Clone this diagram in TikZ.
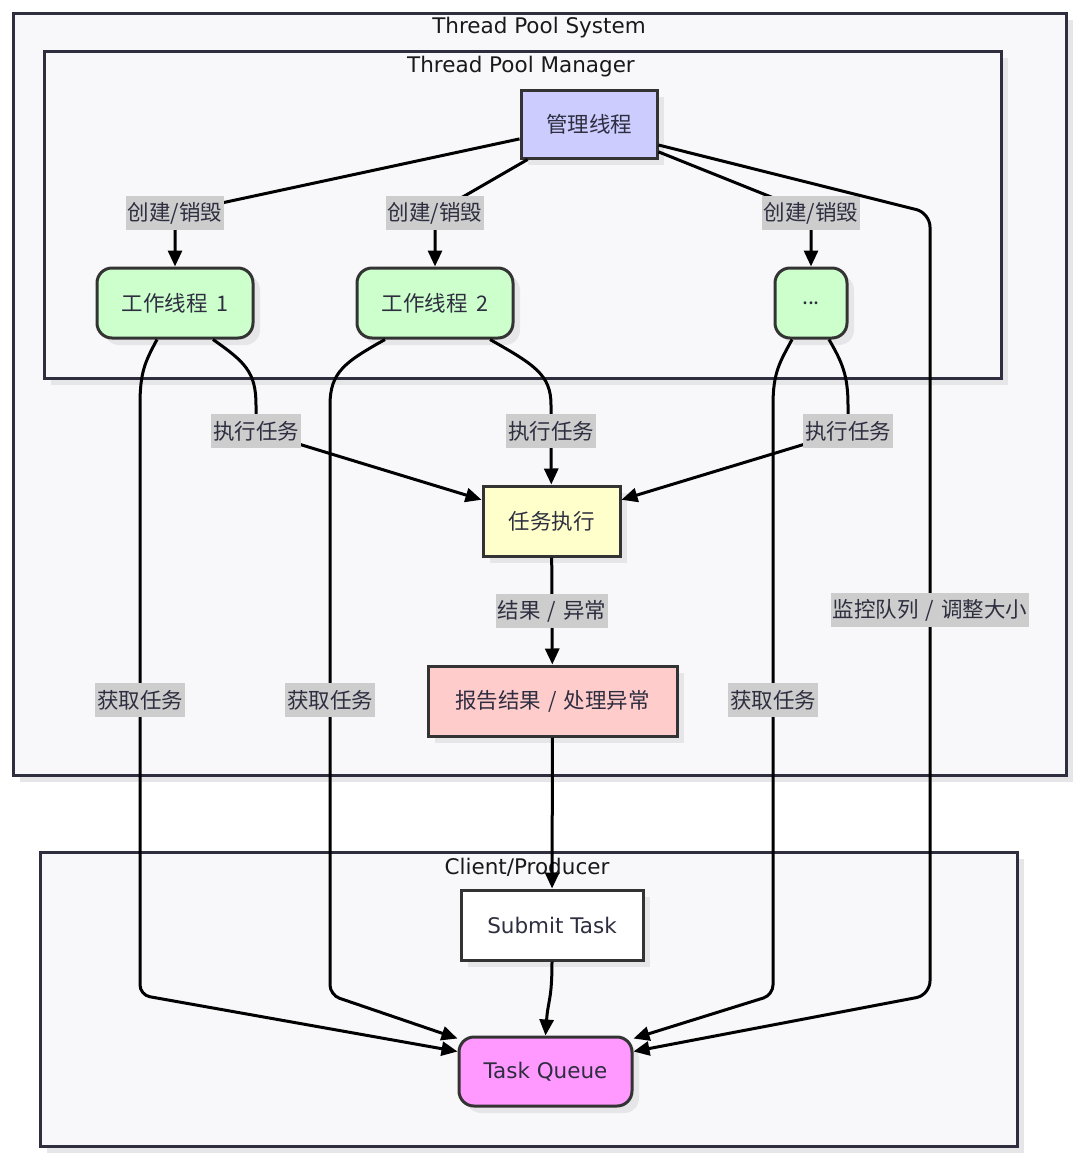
\documentclass[tikz,border=0pt]{standalone}
\usepackage{fontspec}
\setmainfont{DejaVu Sans}
\newfontfamily\cjk{Noto Sans CJK SC}
\usetikzlibrary{shadows,arrows.meta,calc}
\definecolor{clfill}{HTML}{F8F8FA}
\definecolor{clborder}{HTML}{2E2E3E}
\definecolor{nborder}{HTML}{333333}
\definecolor{txt}{HTML}{2E2E40}
\definecolor{lblbg}{HTML}{CDCDCD}
\definecolor{shadowc}{HTML}{E6E6E8}
\definecolor{mgrfill}{HTML}{CCCCFF}
\definecolor{wfill}{HTML}{CCFFCC}
\definecolor{exfill}{HTML}{FFFFCC}
\definecolor{repfill}{HTML}{FFCCCC}
\definecolor{tqfill}{HTML}{FF99FF}
\newcommand{\myslash}{\hspace{7pt}/\hspace{7pt}}
\tikzset{
  shad/.style={drop shadow={shadow xshift=7pt,shadow yshift=-7pt,fill=shadowc,opacity=1}},
  cluster/.style={draw=clborder,line width=2.8pt,fill=clfill,shad,inner sep=0pt,anchor=north west},
  ctitle/.style={text=black!90,inner sep=0pt,font=\fontsize{21.5}{25}\selectfont},
  box/.style={draw=nborder,line width=3pt,text=txt,inner sep=0pt,minimum height=70pt,shad,font=\fontsize{21.5}{25}\selectfont},
  cbox/.style={box,font=\cjk\fontsize{21.5}{25}\selectfont},
  rbox/.style={rounded corners=15pt},
  lbl/.style={sharp corners,fill=lblbg,text=txt,inner xsep=2pt,inner ysep=0pt,minimum height=34pt,font=\cjk\fontsize{21.5}{25}\selectfont},
  arr/.style={draw=black,line width=3pt,-{Triangle[length=16pt,width=14pt]}}
}
\begin{document}
\begin{tikzpicture}[x=1pt,y=-1pt]
\fill[white] (0,0) rectangle (1080,1160);
\useasboundingbox (0,0) rectangle (1080,1160);
% clusters
\node[cluster,minimum width=1053pt,minimum height=762pt] (sys) at (12,12) {};
\node[ctitle] (systitle) at (539,28) {Thread Pool System};
\node[cluster,minimum width=957pt,minimum height=327pt] (mgrc) at (43,50) {};
\node[ctitle] (mgrctitle) at (521,67) {Thread Pool Manager};
\node[cluster,minimum width=977pt,minimum height=294pt] (cli) at (39,851) {};
\node[ctitle] (clititle) at (527,867) {Client/Producer};
% nodes
\node[cbox,fill=mgrfill,minimum width=136pt,minimum height=68pt] (mgr) at (589,124) {管理线程};
\node[cbox,rbox,fill=wfill,minimum width=156pt] (w1) at (175,303) {工作线程\hspace{9pt}1};
\node[cbox,rbox,fill=wfill,minimum width=156pt] (w2) at (435,303) {工作线程\hspace{9pt}2};
\node[cbox,rbox,fill=wfill,minimum width=72pt] (w3) at (811,303) {...};
\node[cbox,fill=exfill,minimum width=137pt] (exec) at (551.5,521) {任务执行};
\node[cbox,fill=repfill,minimum width=249pt] (rep) at (552.5,701) {报告结果\myslash 处理异常};
\node[box,fill=white,minimum width=182pt] (sub) at (552,925) {Submit Task};
\node[box,rbox,fill=tqfill,minimum width=173pt,minimum height=69pt] (tq) at (545.5,1071.5) {Task Queue};
% edges
\draw[arr] (mgr) -- (175,213) node[lbl] (l1) {创建/销毁} -- (w1);
\draw[arr] (mgr) -- (435,213) node[lbl] (l2) {创建/销毁} -- (w2);
\draw[arr] (mgr) -- (811,213) node[lbl] (l3) {创建/销毁} -- (w3);
\draw[arr,rounded corners=14pt] ([yshift=-21pt]mgr.east) -- (930,213) -- (930,610) node[lbl] (l4) {监控队列\myslash 调整大小} -- (930,995) -- ([yshift=20pt]tq.east);
\draw[arr] ([xshift=38pt]w1.south) .. controls (245,362) and (256,372) .. (256,405) -- (256,431) node[lbl] (l5) {执行任务} -- (exec);
\draw[arr] ([xshift=55pt]w2.south) .. controls (535,365) and (551,375) .. (551,405) -- (551,431) node[lbl] (l6) {执行任务} -- (exec);
\draw[arr] ([xshift=18pt]w3.south) .. controls (842,362) and (848,375) .. (848,405) -- (848,431) node[lbl] (l7) {执行任务} -- (exec);
\draw[arr] (exec) -- node[lbl] (l8) {结果\myslash 异常} (rep);
\draw[arr] (rep) -- (sub);
\draw[arr] (sub.south) .. controls (552,1000) and (548,1000) .. (tq.north);
\draw[arr] ([xshift=-18pt]w1.south) .. controls (145,362) and (140,372) .. (140,405) [rounded corners=10pt] -- (140,700) node[lbl] (l9) {获取任务} -- (140,995) -- ([yshift=20pt]tq.west);
\draw[arr] ([xshift=-50pt]w2.south) .. controls (345,362) and (330,372) .. (330,405) [rounded corners=10pt] -- (330,700) node[lbl] (l10) {获取任务} -- (330,995) -- ([yshift=-3pt]tq.north west);
\draw[arr] ([xshift=-19pt]w3.south) .. controls (780,362) and (773,372) .. (773,405) [rounded corners=10pt] -- (773,700) node[lbl] (l11) {获取任务} -- (773,995) -- ([yshift=-3pt]tq.north east);
\end{tikzpicture}
\end{document}
